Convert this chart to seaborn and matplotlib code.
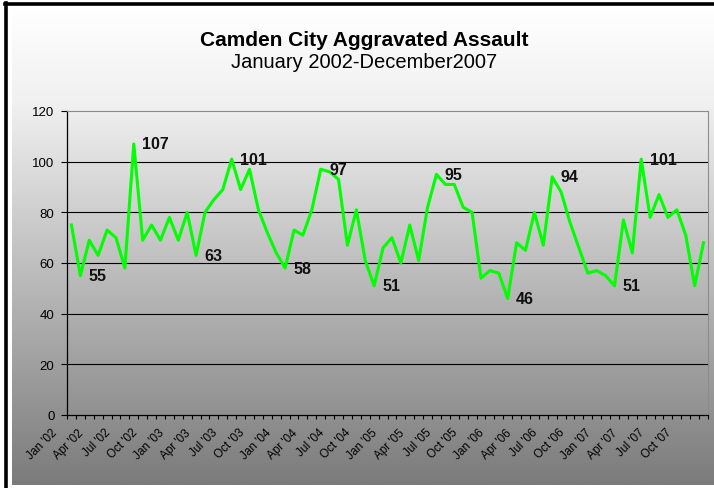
import numpy as np
import pandas as pd
import matplotlib
matplotlib.use("Agg")
import matplotlib.pyplot as plt
import matplotlib.transforms as mtransforms
from matplotlib.colors import LinearSegmentedColormap
from matplotlib.lines import Line2D
import seaborn as sns

# Monthly counts, Jan 2002 - Dec 2007
months = pd.date_range("2002-01-01", "2007-12-01", freq="MS")
assaults = [75, 55, 69, 63, 73, 70, 58, 107, 69, 75, 69, 78,
            69, 80, 63, 80, 85, 89, 101, 89, 97, 81, 72, 64,
            58, 73, 71, 81, 97, 96, 93, 67, 81, 61, 51, 66,
            70, 60, 75, 61, 82, 95, 91, 91, 82, 80, 54, 57,
            56, 46, 68, 65, 80, 67, 94, 88, 76, 66, 56, 57,
            55, 51, 77, 64, 101, 78, 87, 78, 81, 71, 51, 68]
# months that carry a data label
labelled = ["2002-02", "2002-08", "2003-03", "2003-07", "2004-01", "2004-05",
            "2004-11", "2005-06", "2006-02", "2006-07", "2007-02", "2007-05"]
tick_labels = [m.strftime("%b '%y") for m in months[::3]]
y_ticks = [0, 20, 40, 60, 80, 100, 120]

df = pd.DataFrame({"month": months, "n": assaults})
df["idx"] = np.arange(len(df))

plt.rcParams['font.family'] = ['Liberation Sans', 'DejaVu Sans']

fig = plt.figure(figsize=(7.14, 4.89), dpi=100, facecolor="white")

# gradient chart area
bg = fig.add_axes([12 / 714, 3 / 489, 702 / 714, 477 / 489])
grad_cmap = LinearSegmentedColormap.from_list(
    "grad", [(0, "#ffffff"), (0.2, "#f0f0f0"), (1, "#7b7b7b")])
bg.imshow(np.linspace(0, 1, 256).reshape(-1, 1), aspect="auto", cmap=grad_cmap,
          extent=[0, 1, 0, 1])
bg.set_axis_off()

# black frame (left and top)
fig.add_artist(Line2D([6 / 714, 6 / 714], [0, 1 - 4 / 489], transform=fig.transFigure,
                      color="black", lw=2.6))
fig.add_artist(Line2D([5 / 714, 1], [1 - 5 / 489, 1 - 5 / 489], transform=fig.transFigure,
                      color="black", lw=2.6))

ax = fig.add_axes([67 / 714, 1 - 416 / 489, 641 / 714, 304 / 489])
ax.patch.set_alpha(0)

sns.lineplot(data=df, x="idx", y="n", ax=ax, color="#00ff00", lw=2.2)

for _, row in df[df["month"].dt.strftime("%Y-%m").isin(labelled)].iterrows():
    ax.annotate(str(row["n"]), (row["idx"], row["n"]), xytext=(6, 0),
                textcoords="offset points", ha="left", va="center",
                fontsize=11.5, fontweight="bold", color="#111111")

ax.set_xlim(-0.5, len(df) - 0.5)
ax.set_ylim(0, 120)
ax.set_xlabel("")
ax.set_ylabel("")

ax.set_yticks(y_ticks)
ax.tick_params(axis="y", length=4, width=0.8, pad=5, labelsize=9.5, colors="black")
ax.yaxis.grid(True, color="black", lw=0.8)
ax.set_axisbelow(True)
gl = ax.get_ygridlines()
gl[0].set_visible(False)
gl[-1].set_visible(False)

ax.set_xticks(df["idx"][::3])
ax.set_xticklabels(tick_labels, rotation=45, ha="right", va="center",
                   rotation_mode="anchor", fontsize=8.5)
ax.set_xticks(np.arange(-0.5, len(df), 1), minor=True)
ax.tick_params(axis="x", which="major", length=0, pad=11)
ax.tick_params(axis="x", which="minor", length=3, width=0.8, color="black")
shift = mtransforms.ScaledTranslation(-16 / 100, 0, fig.dpi_scale_trans)
for lbl in ax.get_xticklabels():
    lbl.set_transform(lbl.get_transform() + shift)

for side in ["left", "bottom"]:
    ax.spines[side].set_color("black")
    ax.spines[side].set_linewidth(0.9)
for side in ["top", "right"]:
    ax.spines[side].set_color("#8c8c8c")
    ax.spines[side].set_linewidth(0.8)

fig.text(364 / 714, 1 - 40 / 489, "Camden City Aggravated Assault", ha="center",
         va="center", fontsize=15, fontweight="bold")
fig.text(364 / 714, 1 - 63 / 489, "January 2002-December2007", ha="center",
         va="center", fontsize=14.5)

fig.savefig("out.png", dpi=100)
